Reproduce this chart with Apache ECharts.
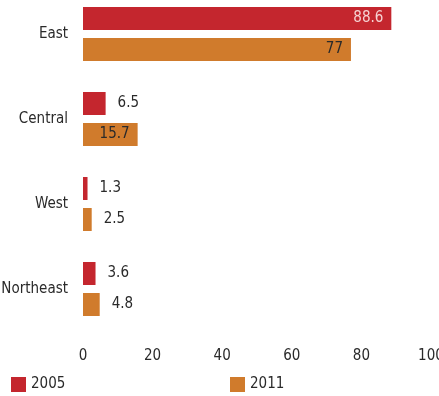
<!DOCTYPE html>
<html><head><meta charset="utf-8">
<script src="https://cdn.jsdelivr.net/npm/echarts@6/dist/echarts.min.js"></script>
<style>html,body{margin:0;padding:0;background:#fff}#c{width:439px;height:396px}</style>
</head><body><div id="c"></div>
<script>
const categories = ['East', 'Central', 'West', 'Northeast'];
const values2005 = [88.6, 6.5, 1.3, 3.6];
const values2011 = [77, 15.7, 2.5, 4.8];
const xTicks = [0, 20, 40, 60, 80, 100];

const FONT = '"DejaVu Sans Condensed", sans-serif';
const RED = '#c4262e', ORANGE = '#d07b2c';

function mk(vals, insideColor) {
  return vals.map(v => ({
    value: v,
    label: v > 10
      ? { position: 'insideRight', distance: 8, color: insideColor }
      : { position: 'right', distance: 12, color: '#2a2a2a' }
  }));
}

const chart = echarts.init(document.getElementById('c'));
chart.setOption({
  animation: false,
  textStyle: { fontFamily: FONT },
  grid: { left: 83, right: 8, top: -8.5, height: 340, containLabel: false, outerBoundsMode: 'none' },
  legend: [
    { data: ['2005'], left: 6, top: 372, itemWidth: 15, itemHeight: 15, itemGap: 8,
      textStyle: { fontFamily: FONT, fontSize: 15, color: '#2a2a2a' }, icon: 'rect' },
    { data: ['2011'], left: 225, top: 372, itemWidth: 15, itemHeight: 15, itemGap: 8,
      textStyle: { fontFamily: FONT, fontSize: 15, color: '#2a2a2a' }, icon: 'rect' }
  ],
  xAxis: {
    type: 'value', min: xTicks[0], max: xTicks[xTicks.length - 1], interval: 20,
    axisLine: { show: false }, axisTick: { show: false }, splitLine: { show: false },
    axisLabel: { fontFamily: FONT, fontSize: 15, color: '#2a2a2a', margin: 17 }
  },
  yAxis: {
    type: 'category', data: categories, inverse: true,
    axisLine: { show: false }, axisTick: { show: false },
    axisLabel: { fontFamily: FONT, fontSize: 15, color: '#2a2a2a', margin: 15 }
  },
  series: [
    { name: '2005', type: 'bar', data: mk(values2005, '#f6d3d3'), barWidth: 23, barGap: '35%',
      itemStyle: { color: RED },
      label: { show: true, fontFamily: FONT, fontSize: 15 } },
    { name: '2011', type: 'bar', data: mk(values2011, '#2a2a2a'), barWidth: 23, barGap: '35%',
      itemStyle: { color: ORANGE },
      label: { show: true, fontFamily: FONT, fontSize: 15 } }
  ]
});
</script></body></html>
